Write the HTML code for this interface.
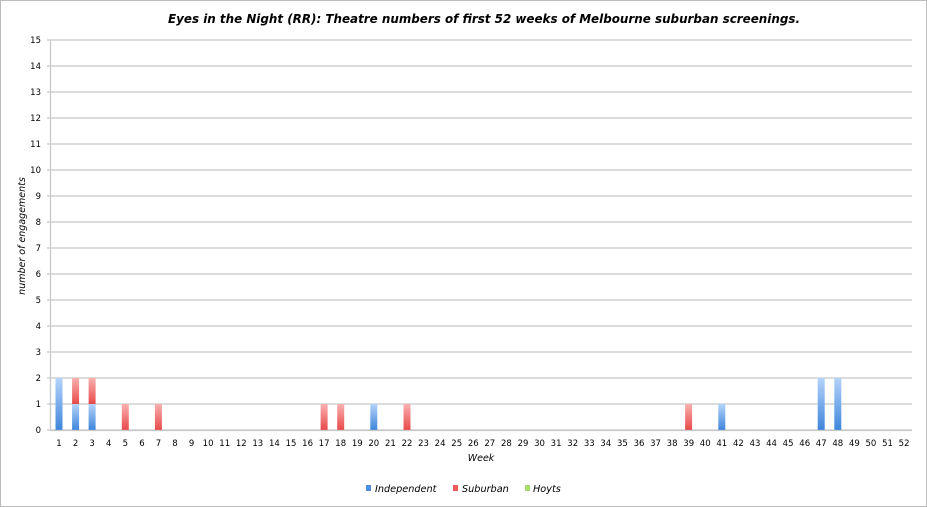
<!DOCTYPE html>
<html><head><meta charset="utf-8"><style>
html,body{margin:0;padding:0;background:#fff;}
svg{display:block;font-family:"DejaVu Sans","Liberation Sans",sans-serif;}
</style></head><body>
<svg width="927" height="507" viewBox="0 0 927 507" xmlns="http://www.w3.org/2000/svg">
<defs>
<linearGradient id="b" x1="0" y1="0" x2="0" y2="1"><stop offset="0" stop-color="#b3d3fa"/><stop offset="1" stop-color="#3f86db"/></linearGradient>
<linearGradient id="r" x1="0" y1="0" x2="0" y2="1"><stop offset="0" stop-color="#fab0b0"/><stop offset="1" stop-color="#e84a4a"/></linearGradient>
</defs>
<rect x="0.5" y="0.5" width="926" height="506" fill="#fff" stroke="#bcbcbc"/>
<text x="168" y="23" font-size="12" font-weight="bold" font-style="italic" textLength="632" lengthAdjust="spacingAndGlyphs">Eyes in the Night (RR): Theatre numbers of first 52 weeks of Melbourne suburban screenings.</text>
<g stroke="#c8c8c8" stroke-width="1.3">
<line x1="47" x2="912" y1="40" y2="40"/><line x1="47" x2="912" y1="66" y2="66"/><line x1="47" x2="912" y1="92" y2="92"/><line x1="47" x2="912" y1="118" y2="118"/><line x1="47" x2="912" y1="144" y2="144"/><line x1="47" x2="912" y1="170" y2="170"/><line x1="47" x2="912" y1="196" y2="196"/><line x1="47" x2="912" y1="222" y2="222"/><line x1="47" x2="912" y1="248" y2="248"/><line x1="47" x2="912" y1="274" y2="274"/><line x1="47" x2="912" y1="300" y2="300"/><line x1="47" x2="912" y1="326" y2="326"/><line x1="47" x2="912" y1="352" y2="352"/><line x1="47" x2="912" y1="378" y2="378"/><line x1="47" x2="912" y1="404" y2="404"/><line x1="47" x2="912" y1="430" y2="430"/>
<line x1="50.5" x2="50.5" y1="40" y2="430"/>
</g>
<g font-size="8.5" text-anchor="end">
<text x="41" y="43">15</text><text x="41" y="69">14</text><text x="41" y="95">13</text><text x="41" y="121">12</text><text x="41" y="147">11</text><text x="41" y="173">10</text><text x="41" y="199">9</text><text x="41" y="225">8</text><text x="41" y="251">7</text><text x="41" y="277">6</text><text x="41" y="303">5</text><text x="41" y="329">4</text><text x="41" y="355">3</text><text x="41" y="381">2</text><text x="41" y="407">1</text><text x="41" y="433">0</text>
</g>
<text transform="translate(25,236) rotate(-90)" text-anchor="middle" font-size="9.5" font-style="italic">number of engagements</text>
<rect x="55.5" y="378" width="7" height="52" fill="url(#b)"/>
<rect x="72.1" y="404" width="7" height="26" fill="url(#b)"/><rect x="72.1" y="378" width="7" height="26" fill="url(#r)"/>
<rect x="88.6" y="404" width="7" height="26" fill="url(#b)"/><rect x="88.6" y="378" width="7" height="26" fill="url(#r)"/>
<rect x="121.8" y="404" width="7" height="26" fill="url(#r)"/>
<rect x="154.9" y="404" width="7" height="26" fill="url(#r)"/>
<rect x="320.6" y="404" width="7" height="26" fill="url(#r)"/>
<rect x="337.2" y="404" width="7" height="26" fill="url(#r)"/>
<rect x="370.3" y="404" width="7" height="26" fill="url(#b)"/>
<rect x="403.5" y="404" width="7" height="26" fill="url(#r)"/>
<rect x="685.1" y="404" width="7" height="26" fill="url(#r)"/>
<rect x="718.3" y="404" width="7" height="26" fill="url(#b)"/>
<rect x="817.7" y="378" width="7" height="52" fill="url(#b)"/>
<rect x="834.3" y="378" width="7" height="52" fill="url(#b)"/>
<line x1="50" x2="912" y1="430.5" y2="430.5" stroke="#c8c8c8" stroke-width="1.3"/>
<g font-size="8.5" text-anchor="middle">
<text x="59.0" y="446">1</text><text x="75.6" y="446">2</text><text x="92.1" y="446">3</text><text x="108.7" y="446">4</text><text x="125.3" y="446">5</text><text x="141.9" y="446">6</text><text x="158.4" y="446">7</text><text x="175.0" y="446">8</text><text x="191.6" y="446">9</text><text x="208.1" y="446">10</text><text x="224.7" y="446">11</text><text x="241.3" y="446">12</text><text x="257.8" y="446">13</text><text x="274.4" y="446">14</text><text x="291.0" y="446">15</text><text x="307.6" y="446">16</text><text x="324.1" y="446">17</text><text x="340.7" y="446">18</text><text x="357.3" y="446">19</text><text x="373.8" y="446">20</text><text x="390.4" y="446">21</text><text x="407.0" y="446">22</text><text x="423.5" y="446">23</text><text x="440.1" y="446">24</text><text x="456.7" y="446">25</text><text x="473.3" y="446">26</text><text x="489.8" y="446">27</text><text x="506.4" y="446">28</text><text x="523.0" y="446">29</text><text x="539.5" y="446">30</text><text x="556.1" y="446">31</text><text x="572.7" y="446">32</text><text x="589.3" y="446">33</text><text x="605.8" y="446">34</text><text x="622.4" y="446">35</text><text x="639.0" y="446">36</text><text x="655.5" y="446">37</text><text x="672.1" y="446">38</text><text x="688.7" y="446">39</text><text x="705.2" y="446">40</text><text x="721.8" y="446">41</text><text x="738.4" y="446">42</text><text x="755.0" y="446">43</text><text x="771.5" y="446">44</text><text x="788.1" y="446">45</text><text x="804.7" y="446">46</text><text x="821.2" y="446">47</text><text x="837.8" y="446">48</text><text x="854.4" y="446">49</text><text x="870.9" y="446">50</text><text x="887.5" y="446">51</text><text x="904.1" y="446">52</text>
</g>
<text x="481" y="461" text-anchor="middle" font-size="9.5" font-style="italic">Week</text>
<rect x="366" y="485" width="5" height="6" fill="#4a8fe0"/>
<text x="375" y="492" font-size="9.7" font-style="italic">Independent</text>
<rect x="453" y="485" width="5" height="6" fill="#ec5a5a"/>
<text x="462" y="492" font-size="9.7" font-style="italic">Suburban</text>
<rect x="525" y="485" width="5" height="6" fill="#a6dc6c"/>
<text x="533" y="492" font-size="9.7" font-style="italic">Hoyts</text>
</svg>
</body></html>
